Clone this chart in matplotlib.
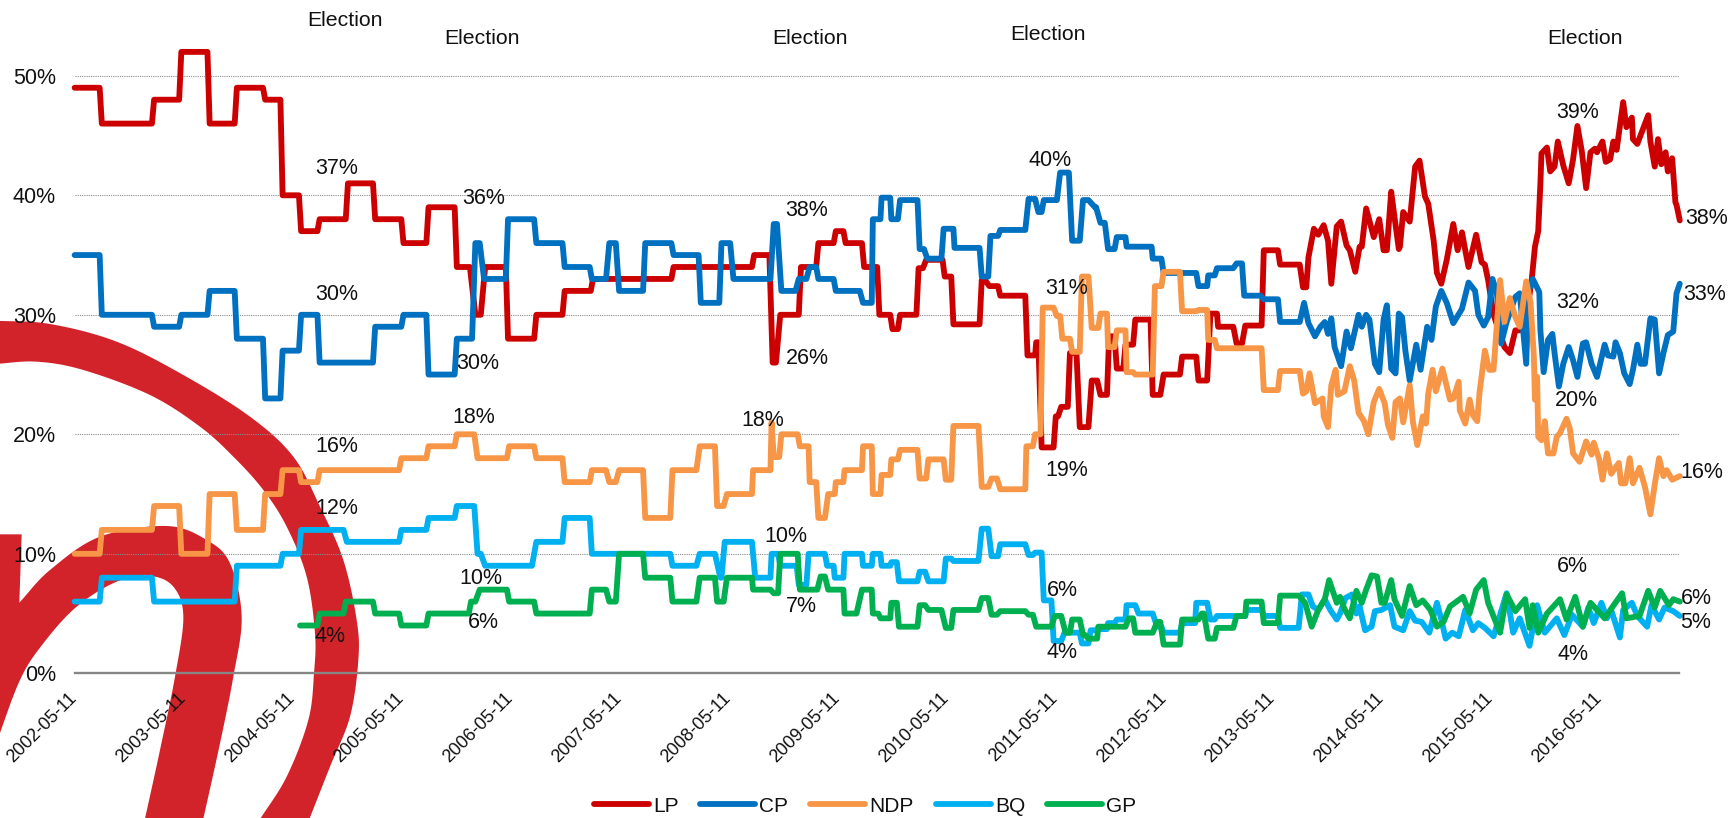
import numpy as np
import matplotlib
matplotlib.use("Agg")
import matplotlib.pyplot as plt
from matplotlib.patches import Polygon
from matplotlib.lines import Line2D

plt.rcParams['font.family'] = ['Liberation Sans', 'DejaVu Sans']

W, H = 1733, 818

tick_labels = [f"{y}-05-11" for y in range(2002, 2017)][:15]
y_ticks = [0, 10, 20, 30, 40, 50]

# (start year offset, end year offset, percent)
lp_steps = [(0,.23,49),(.25,.71,46),(.73,.96,48),(.98,1.22,52),(1.24,1.47,46),(1.49,1.73,49),(1.75,1.89,48),
 (1.91,2.06,40),(2.08,2.23,37),(2.25,2.49,38),(2.51,2.74,41),(2.76,3.0,38),(3.02,3.23,36),(3.25,3.49,39),
 (3.51,3.63,34),(3.68,3.73,30),(3.77,3.96,34),(3.98,4.22,28),(4.24,4.48,30),(4.5,4.74,32),(4.76,5.48,33),
 (5.5,6.22,34),(6.24,6.38,35),(6.41,6.44,26),(6.48,6.65,30),(6.67,6.81,34),(6.83,6.97,36),(6.99,7.06,37),
 (7.08,7.23,36),(7.25,7.37,34),(7.39,7.49,30),(7.51,7.56,28.8),(7.58,7.73,30),(7.75,7.79,33.9),(7.82,7.97,34.6),
 (7.99,8.05,33.2),(8.07,8.31,29.2),(8.33,8.36,32.9),(8.4,8.48,32.4),(8.5,8.73,31.6),(8.75,8.82,26.6),(8.83,8.85,27.7),
 (8.88,8.99,18.9),(9.01,9.03,21.5),(9.06,9.12,22.3),(9.14,9.2,26.8),(9.23,9.31,20.6),(9.34,9.39,24.5),(9.42,9.48,23.3),
 (9.5,9.55,28.2),(9.57,9.63,25.5),(9.65,9.72,27.5),(9.74,9.88,29.6),(9.9,9.97,23.3),(10.0,10.15,25),(10.17,10.3,26.5),
 (10.32,10.4,24.5),(10.43,10.49,30.1),(10.5,10.64,29),(10.67,10.72,27.6),(10.75,10.9,29.1),(10.92,11.05,35.4),(11.07,11.25,34.2)]
lp_t = [11.28,11.31,11.33,11.38,11.42,11.47,11.51,11.54,11.59,11.63,11.68,11.71,11.76,11.8,11.82,11.86,11.93,11.98,
 12.02,12.05,12.09,12.12,12.16,12.17,12.2,12.26,12.31,12.35,12.4,12.43,12.48,12.51,12.55,12.6,12.66,12.7,12.74,12.77,12.8,
 12.87,12.92,12.95,12.98,13.03,13.13,13.18,13.23,13.27,13.33,13.38,13.41,13.44,13.46,13.47,13.52,13.55,13.59,13.62,13.67,13.72,
 13.76,13.8,13.84,13.88,13.92,13.96,13.98,14.03,14.06,14.1,14.13,14.16,14.19,14.22,14.25,14.3,14.31,14.35,14.45,14.47,14.51,14.54,14.57,14.61,14.63,14.67,14.7,14.71,14.74]
lp_v = [32.3,32.3,34.8,37.2,36.7,37.5,36.2,32.6,37.4,37.8,35.8,35.4,33.6,35.7,35.7,38.9,36.5,38,
 35.4,35.4,40.3,38.2,35.5,35.7,38.6,37.8,42.4,42.9,39.9,39.3,36.2,33.5,32.6,34.6,37.6,35.4,36.9,35.4,34,
 36.7,34.4,34.2,32.9,30,27.3,26.8,28.7,28.7,29.8,32.9,35.7,37,41,43.5,44,42,42.4,44.5,42.5,41,
 43,45.8,43.7,40.6,43.6,43.9,43.6,44.5,42.8,43,44.5,43.8,45.8,47.8,45.7,46.5,44.7,44.3,46.7,44.5,42.4,44.7,42.6,43.6,42,43.1,39.4,39.2,37.9]

cp_steps = [(0,.23,35),(.25,.71,30),(.73,.96,29),(.98,1.22,30),(1.24,1.47,32),(1.49,1.73,28),(1.75,1.89,23),(1.91,2.06,27),
 (2.08,2.23,30),(2.25,2.74,26),(2.76,3.0,29),(3.02,3.23,30),(3.25,3.49,25),(3.51,3.65,28),(3.68,3.72,36),(3.76,3.96,33),
 (3.98,4.22,38),(4.24,4.48,36),(4.5,4.73,34),(4.75,4.88,33),(4.91,4.97,36),(5.0,5.22,32),(5.24,5.48,36),(5.5,5.73,35),
 (5.75,5.92,31),(5.94,6.02,36),(6.05,6.39,33),(6.42,6.45,37.6),(6.49,6.62,32),(6.65,6.72,33),(6.75,6.81,34),(6.83,6.97,33),
 (6.99,7.21,32),(7.24,7.32,31),(7.33,7.4,38),(7.41,7.49,39.8),(7.5,7.56,38),(7.58,7.74,39.6),(7.76,7.8,35.5),(7.83,7.96,34.7),
 (7.98,8.07,37.2),(8.08,8.31,35.6),(8.33,8.39,33.2),(8.41,8.48,36.6),(8.5,8.73,37.1),(8.76,8.82,39.7),(8.85,8.88,38.6),(8.9,9.02,39.6),
 (9.05,9.13,41.9),(9.16,9.23,36.2),(9.26,9.31,39.6),(9.37,9.38,39),(9.42,9.46,37.7),(9.49,9.55,35.5),(9.57,9.65,36.5),(9.66,9.89,35.7),
 (9.9,9.98,34.7),(10.0,10.3,33.5),(10.32,10.4,32.4),(10.41,10.47,33.3),(10.49,10.64,33.9),(10.67,10.72,34.3),(10.74,10.89,31.6),
 (10.92,11.05,31.3),(11.07,11.25,29.4)]
cp_t = [11.29,11.33,11.39,11.44,11.48,11.51,11.54,11.57,11.63,11.68,11.72,11.79,11.82,11.86,11.89,11.94,11.98,12.02,12.05,12.09,12.13,12.16,
 12.19,12.22,12.26,12.32,12.36,12.42,12.46,12.5,12.55,12.6,12.66,12.74,12.8,12.86,12.89,12.94,12.98,13.02,13.06,13.1,13.15,13.23,13.27,13.33,13.35,13.39,13.45,13.46,13.49,
 13.53,13.57,13.59,13.63,13.67,13.72,13.76,13.8,13.85,13.88,13.93,13.98,14.05,14.08,14.13,14.15,14.19,14.23,14.28,14.31,14.35,14.38,14.42,14.47,14.51,14.55,14.59,14.63,14.68,14.71,14.74]
cp_v = [31,29.3,28.2,29,29.4,28.4,29.7,27.3,25.7,28.6,27.2,30,29,30,29.6,25.9,25.2,29.6,30.8,25.5,25.1,30.1,
 29.8,27,24.5,27.5,25.4,29,27.9,30.7,32,31,29.3,30.5,32.7,32,30,29.1,29.8,33,31.8,27.6,29.4,31.5,31.8,25.9,31.9,33,31.9,28.7,25.2,
 27.9,28.4,26.8,24,25.9,27.3,26.2,24.8,27.6,27.7,25.9,24.8,27.5,26.6,26.5,27.7,26.8,25.1,24.2,25.4,27.5,25.9,25.9,29.7,29.6,25.1,26.8,28.3,28.6,31.8,32.6]

ndp_steps = [(0,.23,10),(.25,.71,12),(.73,.96,14),(.98,1.22,10),(1.24,1.47,15),(1.49,1.73,12),(1.75,1.89,15),(1.91,2.06,17),
 (2.08,2.23,16),(2.25,2.98,17),(3.0,3.23,18),(3.25,3.49,19),(3.51,3.67,20),(3.7,3.97,18),(3.99,4.22,19),(4.24,4.48,18),
 (4.5,4.73,16),(4.75,4.88,17),(4.91,4.97,16),(5.0,5.22,17),(5.24,5.47,13),(5.49,5.71,17),(5.74,5.88,19),(5.9,5.96,14),
 (5.99,6.22,15),(6.23,6.39,17),(6.4,6.4,21),(6.42,6.47,18.1),(6.49,6.64,20),(6.66,6.74,19),(6.75,6.81,16),(6.83,6.89,13),
 (6.92,6.98,15),(6.99,7.06,16),(7.07,7.23,17),(7.24,7.32,19),(7.33,7.4,15),(7.41,7.49,16.6),(7.5,7.56,17.9),(7.58,7.74,18.7),
 (7.76,7.82,16.3),(7.84,7.98,17.9),(8.0,8.05,16.2),(8.07,8.3,20.7),(8.33,8.39,15.6),(8.42,8.47,16.3),(8.5,8.73,15.4),
 (8.74,8.8,19),(8.82,8.87,20),(8.89,8.99,30.6),(9.02,9.05,29.9),(9.07,9.14,28),(9.16,9.23,26.9),(9.25,9.31,33.2),(9.34,9.4,28.9),
 (9.42,9.48,30.1),(9.49,9.55,27.3),(9.57,9.65,28.7),(9.66,9.72,25.2),(9.74,9.9,25),(9.92,9.98,32.4),(10.0,10.15,33.6),(10.17,10.3,30.3),
 (10.32,10.4,30.4),(10.41,10.47,27.9),(10.49,10.64,27.2),(10.67,10.9,27.2),(10.92,11.05,23.7),(11.07,11.25,25.3)]
ndp_t = [11.28,11.31,11.34,11.39,11.46,11.47,11.51,11.54,11.58,11.6,11.66,11.71,11.75,11.79,11.84,11.88,11.93,11.98,12.03,12.06,12.1,12.13,12.17,
 12.2,12.26,12.29,12.33,12.38,12.41,12.43,12.47,12.5,12.56,12.63,12.66,12.71,12.72,12.77,12.81,12.84,12.88,12.9,12.95,12.99,13.03,13.09,13.13,13.18,13.23,13.27,13.33,13.37,13.4,13.41,13.43,13.44,
 13.47,13.5,13.53,13.58,13.61,13.64,13.7,13.73,13.76,13.82,13.88,13.93,13.95,14.0,14.03,14.07,14.11,14.18,14.2,14.24,14.28,14.31,14.37,14.42,14.47,14.51,14.55,14.59,14.62,14.67,14.74]
ndp_v = [23.4,23.6,25.1,22.6,23,21.5,20.6,24.1,25.4,23.3,23.6,25.7,24.5,21.8,21.1,20,22.7,23.8,22.6,20.8,19.7,22.7,23,
 21,24.1,21,19.1,21.5,20.9,23.4,25.4,23.6,25.5,22.9,23,24.4,22,20.9,22.9,21.6,21.1,23.4,27,25.4,25.4,32.9,29.4,31.4,29.8,29,32.8,31,26.5,22.9,24.8,19.8,
 19.5,21.1,18.4,18.4,19.8,20.1,21.3,20.5,18.4,17.7,19.4,18.3,19.3,17.9,16.2,18.4,16.7,17.6,15.9,15.9,18,15.9,17.2,15.6,13.3,15.8,18,16.5,17,16.2,16.5]

bq_steps = [(0,.23,6),(.25,.71,8),(.73,1.47,6),(1.49,1.89,9),(1.91,2.06,10),(2.08,2.47,12),(2.5,2.98,11),(3.0,3.23,12),(3.25,3.49,13),
 (3.51,3.67,14),(3.7,3.73,10),(3.77,4.2,9),(4.24,4.48,11),(4.5,4.73,13),(4.75,5.47,10),(5.49,5.71,9),(5.74,5.88,10),(5.93,5.94,8),
 (5.97,6.22,11),(6.25,6.39,8),(6.4,6.46,10),(6.48,6.63,9),(6.65,6.72,7.4),(6.74,6.89,10),(6.91,6.97,9),(6.98,7.06,8),(7.07,7.23,10),
 (7.24,7.32,9),(7.33,7.4,10),(7.41,7.49,9),(7.5,7.55,9.3),(7.57,7.74,7.7),(7.76,7.81,8.5),(7.84,7.98,7.7),(8.0,8.05,9.6),(8.07,8.3,9.4),
 (8.33,8.39,12.1),(8.42,8.48,9.8),(8.5,8.73,10.8),(8.76,8.8,9.9),(8.82,8.88,10.1),(8.9,8.97,6.1),(8.99,9.06,2.7),(9.09,9.14,3.4),(9.16,9.23,3.4),
 (9.25,9.31,2.5),(9.33,9.39,3.6),(9.4,9.48,3.7),(9.49,9.55,4.2),(9.57,9.65,4.5),(9.66,9.74,5.7),(9.77,9.9,5),(9.94,9.98,3.9),(10.0,10.15,3.4),
 (10.17,10.29,4.2),(10.3,10.4,5.9),(10.43,10.47,4.5),(10.49,10.64,4.8),(10.67,10.75,4.8),(10.76,10.9,5.3),(10.92,11.05,4.8),(11.07,11.24,3.8)]
bq_t = [11.27,11.33,11.37,11.42,11.48,11.53,11.59,11.62,11.67,11.73,11.77,11.8,11.85,11.91,11.94,12.0,12.08,12.12,12.2,12.26,12.31,12.37,12.44,12.51,12.55,12.59,12.65,12.71,12.77,12.84,12.89,12.95,13.03,13.09,13.15,13.21,13.27,13.36,13.43,13.5,13.61,13.68,13.75,13.85,13.9,13.95,14.02,14.07,14.11,14.19,14.22,14.3,14.35,14.44,14.48,14.55,14.6,14.68,14.74]
bq_v = [6.6,6.6,5.6,5.3,6.2,5.3,4.5,5,6.3,6.6,5,5.6,3.6,3.9,5.2,5.3,5.7,3.9,3.6,5.2,4.4,4.3,3.4,5.9,4.5,2.9,3.4,3.1,5.3,3.6,4.2,3.8,3.1,4.9,6.7,3.4,4.6,2.3,5.7,3.4,4.6,3.2,4.9,3.9,5.5,4.2,5.9,4.6,5.3,3,5.3,5.9,4.8,3.9,5.7,4.5,5.5,5.2,4.8]

gp_steps = [(2.07,2.23,4),(2.25,2.47,5),(2.49,2.74,6),(2.76,2.98,5),(3.0,3.23,4),(3.25,3.62,5),(3.64,3.68,6),(3.72,3.97,7),(3.99,4.22,6),
 (4.24,4.73,5),(4.75,4.88,7),(4.91,4.97,6),(5.0,5.22,10),(5.24,5.47,8),(5.49,5.71,6),(5.74,5.88,8),(5.9,5.96,6),(5.99,6.22,8),(6.23,6.39,7),
 (6.42,6.46,6.7),(6.48,6.64,10),(6.66,6.82,7),(6.85,6.89,8.1),(6.92,7.06,7),(7.07,7.18,5),(7.23,7.32,7),(7.33,7.38,5),(7.4,7.49,4.6),(7.5,7.55,5.9),
 (7.57,7.74,3.9),(7.76,7.81,5.7),(7.84,7.96,5.3),(8.0,8.05,3.8),(8.07,8.3,5.3),(8.33,8.39,6.3),(8.42,8.47,4.9),(8.5,8.73,5.2),(8.76,8.8,4.9),
 (8.83,8.97,3.9),(9.0,9.06,4.8),(9.1,9.14,3.4),(9.16,9.23,4.5),(9.26,9.28,3.2),(9.31,9.39,2.9),(9.4,9.48,3.9),(9.5,9.65,3.9),(9.68,9.72,4.6),
 (9.74,9.9,3.4),(9.94,9.97,4.3),(10.0,10.15,2.4),(10.17,10.32,4.5),(10.35,10.37,5),(10.41,10.47,2.9),(10.49,10.64,3.8),(10.67,10.75,4.8),
 (10.76,10.9,6),(10.92,11.05,4.2),(11.07,11.24,6.5)]
gp_t = [11.3,11.36,11.42,11.48,11.52,11.59,11.62,11.66,11.71,11.77,11.82,11.86,11.91,11.96,12.0,12.03,12.09,12.12,12.19,12.26,12.32,12.38,12.45,12.51,12.57,12.63,12.75,12.81,12.87,12.94,12.98,13.09,13.15,13.23,13.32,13.36,13.39,13.44,13.52,13.64,13.7,13.78,13.85,13.92,14.05,14.11,14.21,14.25,14.37,14.45,14.51,14.56,14.64,14.68,14.74]
gp_v = [5.9,3.9,5.3,6.2,7.8,5.9,6.4,5.4,4.6,6.9,5.9,7,8.2,8.1,5.9,5.9,7.8,6.2,4.8,7.3,5.7,6.1,5.3,3.9,4.3,5.6,6.4,5,7,7.8,5.9,3.4,6.6,5.2,6.2,3.8,5.7,3.4,5,6.2,4.5,6.4,3.9,5.9,4.6,5.4,6.7,4.6,4.8,6.9,5.5,6.9,5.7,6.2,6]

series_names = ['LP', 'CP', 'NDP', 'BQ', 'GP']
series_colors = ['#CC0000', '#0070C0', '#F79646', '#00B0F0', '#00B050']
series_steps = [lp_steps, cp_steps, ndp_steps, bq_steps, gp_steps]
series_t = [lp_t, cp_t, ndp_t, bq_t, gp_t]
series_v = [lp_v, cp_v, ndp_v, bq_v, gp_v]

# text labels: (x px, y px, text)
data_labels = [(337,168,'37%'),(337,295,'30%'),(484,199,'36%'),(478,364,'30%'),(807,211,'38%'),(807,359,'26%'),
 (1050,161,'40%'),(1067,289,'31%'),(1067,470,'19%'),(337,446,'16%'),(474,417,'18%'),(763,420,'18%'),(337,509,'12%'),
 (481,579,'10%'),(786,536,'10%'),(483,623,'6%'),(801,607,'7%'),(330,637,'4%'),(1062,590,'6%'),(1062,652,'4%'),
 (1578,112,'39%'),(1578,303,'32%'),(1576,400,'20%'),(1572,567,'6%'),(1573,654,'4%'),(1707,218,'38%'),(1705,294,'33%'),
 (1702,473,'16%'),(1696,598,'6%'),(1696,622,'5%')]
election_labels = [(345,21),(482,38),(810,38),(1048,34),(1585,38)]

WATERMARK = '#D2232A'

def smooth(pts, n=24):
    p = np.array(pts, float)
    p = np.vstack([2*p[0]-p[1], p, 2*p[-1]-p[-2]])
    out = []
    for i in range(1, len(p)-2):
        for s in np.linspace(0, 1, n, endpoint=False):
            out.append(0.5*((2*p[i]) + (-p[i-1]+p[i+1])*s + (2*p[i-1]-5*p[i]+4*p[i+1]-p[i+2])*s**2
                            + (-p[i-1]+3*p[i]-3*p[i+1]+p[i+2])*s**3))
    out.append(p[-2])
    return np.array(out)

def crop(pts):
    return [(x/3, 300+y/3) for x, y in pts]

def to_fig(a):
    a = np.asarray(a, float)
    return np.c_[a[:, 0]/W, 1-a[:, 1]/H]

fig = plt.figure(figsize=(W/100, H/100), dpi=100, facecolor='white')

# watermark logo behind the chart
band_outer = smooth(crop([(-15,62),(150,72),(350,125),(550,225),(750,350),(880,470),(960,620),(1030,780),(1070,960),(1075,1080),(1050,1250),(990,1400),(925,1565)]))
band_inner = smooth(crop([(-15,192),(110,185),(250,210),(450,285),(600,380),(700,470),(790,570),(860,680),(920,830),(945,1000),(942,1120),(925,1260),(860,1430),(775,1565)]))
arch_outer = smooth(crop([(58,908),(150,810),(300,710),(500,678),(620,720),(690,790),(725,950),(700,1130),(660,1330),(608,1565)]))
arch_inner = smooth(crop([(-15,1340),(60,1140),(130,1030),(230,920),(350,845),(450,828),(520,860),(550,950),(525,1130),(480,1350),(433,1565)]))
fig.add_artist(Polygon(to_fig(np.vstack([band_outer, band_inner[::-1]])), closed=True, fc=WATERMARK, ec='none',
                       transform=fig.transFigure, zorder=-5))
stem = crop([(-15,703),(65,703)])
fig.add_artist(Polygon(to_fig(np.vstack([stem, arch_outer, arch_inner[::-1]])), closed=True, fc=WATERMARK,
                       ec='none', transform=fig.transFigure, zorder=-5))

L, R, B, T = 74.6, 1679.0, 673.3, 0.0
ax = fig.add_axes([L/W, 1-B/H, (R-L)/W, (B-T)/H], zorder=1)
ax.patch.set_visible(False)
ax.set_xlim(0, (R-L)/108.9)
ax.set_ylim(0, (B-T)/11.95)

for sp in ['top', 'right', 'left']:
    ax.spines[sp].set_visible(False)
ax.spines['bottom'].set_color('#868686')
ax.spines['bottom'].set_linewidth(1.7)

ax.set_yticks(y_ticks)
ax.set_yticklabels([f"{v}%" for v in y_ticks], fontsize=15.5, color='#111111')
ax.tick_params(axis='y', length=0, pad=13.4)
ax.set_xticks(range(len(tick_labels)))
ax.set_xticklabels(tick_labels, rotation=45, ha='right', va='center', rotation_mode='anchor', fontsize=13, color='#111111')
ax.tick_params(axis='x', length=0, pad=16)
for v in y_ticks[1:]:
    ax.axhline(v, color='#8c8c8c', lw=0.8, ls=(0, (1, 1)), zorder=1)

handles = []
for name, col, steps, t, v in zip(series_names, series_colors, series_steps, series_t, series_v):
    xs, ys = [], []
    for a, b, val in steps:
        xs += [a, b]
        ys += [val, val]
    xs += list(t)
    ys += list(v)
    ax.plot(xs, ys, color=col, lw=4.2, solid_joinstyle='round', solid_capstyle='round', zorder=3, clip_on=False, label=name)
    handles.append(Line2D([], [], color=col, lw=4.2, solid_capstyle='round'))

for x, y, s in data_labels:
    fig.text(x/W, 1-y/H, s, ha='center', va='center', fontsize=15.5, color='#111111', zorder=5)
for x, y in election_labels:
    fig.text(x/W, 1-y/H, 'Election', ha='center', va='center', fontsize=15.3, color='#111111', zorder=5)

fig.legend(handles, series_names, loc='center', bbox_to_anchor=(865/W, 1-806/H), ncol=5, frameon=False,
           fontsize=15, handlelength=2.64, handletextpad=0.2, columnspacing=1.05, borderpad=0, labelcolor='#111111')

fig.savefig('out.png', dpi=100, facecolor='white')
